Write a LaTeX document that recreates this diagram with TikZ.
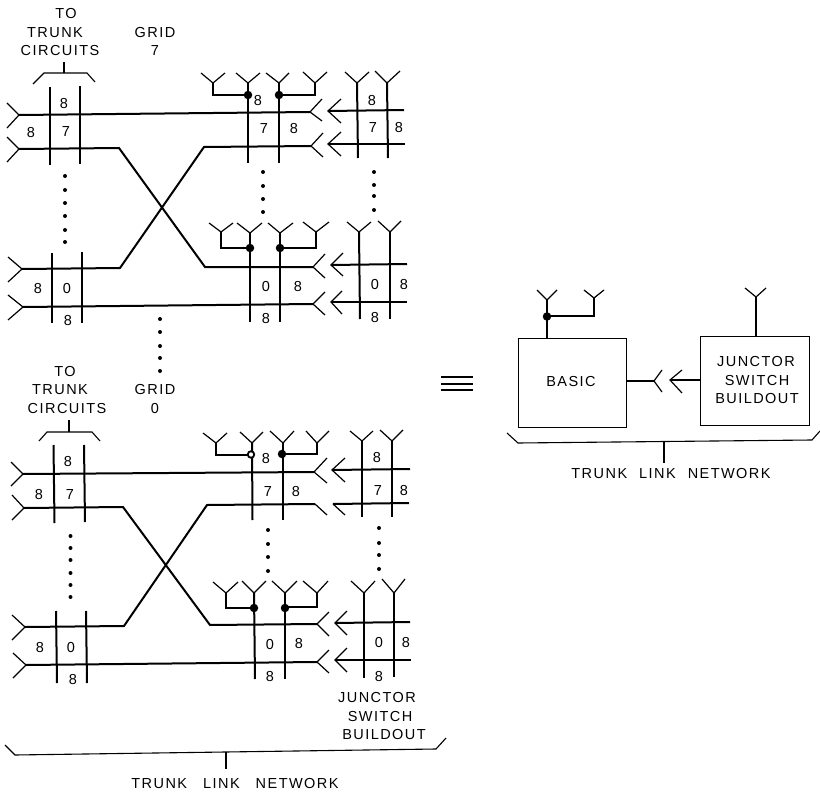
\documentclass[tikz,border=0pt]{standalone}
\usepackage{fontspec}
\setmainfont[LetterSpace=10]{Liberation Sans}
\tikzset{
  trunk/.style={line width=2pt,line join=miter},
  arm/.style={line width=1.2pt,line join=miter},
  brace/.style={line width=1.1pt,line join=miter},
  lbl/.style={inner sep=0pt,yshift=-0.8pt,font=\fontsize{14.5}{16}\selectfont,align=center},
  bigdot/.style={circle,fill=black,inner sep=0pt,minimum size=8.5pt},
  boxn/.style={draw,line width=1.2pt,inner sep=0pt,anchor=north west}
}
% left-opening fork or arrow: name, tip x, tip y, arm x, upper arm y, lower arm y
\newcommand{\forktip}[6]{\coordinate (#1) at (#2,#3);\draw[arm] (#4,#5)--(#1)--(#4,#6);}
% antenna: name, x, tip y, left x, right x, top y
\newcommand{\ant}[6]{\coordinate (#1) at (#2,#3);\draw[arm] (#4,#6)--(#1)--(#5,#6);}
\newcommand{\lab}[4]{\node[lbl] (#1) at (#2,#3) {#4};}
\newcommand{\dotcol}[2]{\foreach \yy in {#2} {\fill (#1,\yy) circle (2pt);}}
\begin{document}
\begin{tikzpicture}[x=1pt,y=-1pt]
\useasboundingbox (0,0) rectangle (820,792);
% ===== GRID 7
\lab{g7to}{66}{13}{TO}
\lab{g7tr}{55}{32}{TRUNK}
\lab{g7ci}{60}{50}{CIRCUITS}
\lab{g7gr}{155}{32}{GRID}
\lab{g7n}{155}{50}{7}
\coordinate (g7bs) at (64,62);\coordinate (g7bm) at (64,73);
\draw[brace] (33,84)--(44,73)--(87,73)--(95,82);
\draw[brace] (g7bs)--(g7bm);
% left verticals
\draw[trunk] (50,87)--(50,165);
\draw[trunk] (80,86)--(80,164);
\draw[trunk] (52,253)--(52,323);
\draw[trunk] (82,252)--(82,323);
% forks
\forktip{a1}{19}{115}{7}{103}{128}
\forktip{a2}{19}{149}{7}{137}{162}
\forktip{a3}{22}{269}{8}{257}{282}
\forktip{a4}{23}{307}{8}{295}{320}
\forktip{b1}{310}{112}{322}{99}{121}
\forktip{b2}{311}{146}{323}{133}{157}
\forktip{b3}{313}{267}{325}{254}{278}
\forktip{b4}{313}{304}{325}{292}{315}
\draw[trunk] (a1)--(b1);
\draw[trunk] (a2)--(119,148)--(205,267)--(b3);
\draw[trunk] (a3)--(120,268)--(204,147)--(b2);
\draw[trunk] (a4)--(b4);
% middle upper
\ant{c1}{213}{83}{201}{225}{73}
\ant{c2}{248}{83}{236}{260}{73}
\ant{c3}{279}{83}{266}{289}{73}
\ant{c4}{315}{83}{303}{327}{72}
\draw[trunk] (c2)--(248,163);
\draw[trunk] (c3)--(279,163);
\draw[trunk] (c1)--(213,95)--(248,95);
\draw[trunk] (c4)--(315,95)--(279,95);
\node[bigdot] (c2d) at (248,95) {};
\node[bigdot] (c3d) at (279,95) {};
% middle lower
\ant{d1}{221}{232}{209}{233}{223}
\ant{d2}{250}{233}{237}{262}{223}
\ant{d3}{280}{233}{268}{293}{223}
\ant{d4}{316}{232}{303}{329}{222}
\draw[trunk] (d2)--(250,322);
\draw[trunk] (d3)--(280,322);
\draw[trunk] (d1)--(221,248)--(250,248);
\draw[trunk] (d4)--(316,248)--(280,248);
\node[bigdot] (d2d) at (250,248) {};
\node[bigdot] (d3d) at (280,248) {};
% right buildout
\ant{e1}{357}{83}{345}{369}{72}
\ant{e2}{387}{83}{375}{400}{71}
\ant{e3}{359}{232}{347}{371}{222}
\ant{e4}{390}{232}{378}{401}{221}
\draw[trunk] (e1)--(358,158);
\draw[trunk] (e2)--(388,158);
\draw[trunk] (e3)--(360,319);
\draw[trunk] (e4)--(390,319);
\forktip{f1}{328}{111}{341}{99}{123}
\forktip{f2}{328}{144}{341}{132}{156}
\forktip{f3}{331}{265}{343}{253}{276}
\forktip{f4}{331}{302}{342}{291}{314}
\draw[trunk] (f1)--(404,110);
\draw[trunk] (f2)--(405,144);
\draw[trunk] (f3)--(407,264);
\draw[trunk] (f4)--(407,302);
% labels
\lab{l1}{64}{103}{8}\lab{l2}{31}{132}{8}\lab{l3}{66}{131}{7}
\lab{l4}{38}{288}{8}\lab{l5}{67}{288}{0}\lab{l6}{68}{320}{8}
\lab{l7}{258}{100}{8}\lab{l8}{264}{128}{7}\lab{l9}{294}{128}{8}
\lab{l10}{372}{100}{8}\lab{l11}{373}{127}{7}\lab{l12}{399}{127}{8}
\lab{l13}{266}{286}{0}\lab{l14}{298}{286}{8}\lab{l15}{266}{318}{8}
\lab{l16}{375}{284}{0}\lab{l17}{404}{284}{8}\lab{l18}{375}{317}{8}
% dots
\dotcol{65}{176,190,203,216,230,242}
\dotcol{263}{172,186,199,212}
\dotcol{374}{172,185,196,210}
\dotcol{160}{319,332,346,358,371}
% ===== GRID 0
\lab{g0gr}{155}{389}{GRID}
\lab{g0n}{155}{408}{0}
\lab{g0to}{65}{371}{TO}
\lab{g0tr}{60}{389}{TRUNK}
\lab{g0ci}{67}{408}{CIRCUITS}
\coordinate (g0bs) at (69,420);\coordinate (g0bm) at (69,432);
\draw[brace] (39,441)--(47,432)--(92,432)--(100,441);
\draw[brace] (g0bs)--(g0bm);
\draw[trunk] (53.5,445)--(54.5,523);
\draw[trunk] (84,445)--(85,522);
\draw[trunk] (56,611)--(57,683);
\draw[trunk] (86,611)--(87,683);
\forktip{h1}{23}{474}{11}{462}{486}
\forktip{h2}{24}{508}{12}{495}{520}
\forktip{h3}{25}{627}{12}{615}{640}
\forktip{h4}{26}{665}{13}{653}{678}
\forktip{i1}{314}{472}{327}{458}{483}
\coordinate (i2) at (315,504);\draw[arm] (i2)--(327,515);
\forktip{i3}{317}{624}{329}{612}{636}
\forktip{i4}{317}{662}{329}{650}{673}
\draw[trunk] (h1)--(i1);
\draw[trunk] (h2)--(123,507)--(210,625)--(i3);
\draw[trunk] (h3)--(124,626)--(207,505)--(i2);
\draw[trunk] (h4)--(i4);
% middle upper
\ant{j1}{216}{443}{203}{227}{433}
\ant{j2}{252}{443}{240}{263}{432}
\ant{j3}{283}{443}{270}{294}{431}
\ant{j4}{317}{443}{306}{329}{431}
\draw[trunk] (j2)--(252.5,520);
\draw[trunk] (j3)--(283,520);
\draw[trunk] (j1)--(216,454.5)--(252,454.5);
\draw[trunk] (j4)--(317,454)--(282,454);
\node[circle,draw,fill=white,line width=1.8pt,inner sep=0pt,minimum size=6.5pt] (j2d) at (251,454.5) {};
\node[bigdot] (j3d) at (282,454) {};
% middle lower
\ant{k1}{226}{593}{213}{238}{582}
\ant{k2}{254}{593}{242}{266}{581}
\ant{k3}{285}{593}{272}{297}{581}
\ant{k4}{317}{593}{303}{328}{581}
\draw[trunk] (k2)--(255,679);
\draw[trunk] (k3)--(285,679);
\draw[trunk] (k1)--(226,608)--(254,608);
\draw[trunk] (k4)--(317,607)--(285,607);
\node[bigdot] (k2d) at (254,608) {};
\node[bigdot] (k3d) at (285,608) {};
% right buildout
\ant{m1}{362}{441}{350}{373}{431}
\ant{m2}{392}{441}{380}{403}{430}
\ant{m3}{364}{593}{351}{375}{581}
\ant{m4}{394}{593}{382}{405}{579}
\draw[trunk] (m1)--(362,517);
\draw[trunk] (m2)--(392,517);
\draw[trunk] (m3)--(364,678);
\draw[trunk] (m4)--(394,677);
\forktip{n1}{332}{470}{345}{458}{482}
\coordinate (n2) at (333,504);\draw[arm] (n2)--(345,515);
\forktip{n3}{335}{623}{347}{611}{635}
\forktip{n4}{335}{660}{347}{648}{672}
\draw[trunk] (n1)--(410,469);
\draw[trunk] (n2)--(409,503);
\draw[trunk] (n3)--(410,622);
\draw[trunk] (n4)--(411,660);
% labels
\lab{p1}{68}{461}{8}\lab{p2}{39}{494}{8}\lab{p3}{70}{494}{7}
\lab{p4}{40}{647}{8}\lab{p5}{71}{647}{0}\lab{p6}{73}{679}{8}
\lab{p7}{266}{458}{8}\lab{p8}{268}{491}{7}\lab{p9}{296}{491}{8}
\lab{p10}{377}{457}{8}\lab{p11}{378}{490}{7}\lab{p12}{404}{490}{8}
\lab{p13}{270}{644}{0}\lab{p14}{299}{643}{8}\lab{p15}{270}{676}{8}
\lab{p16}{379}{642}{0}\lab{p17}{406}{642}{8}\lab{p18}{379}{676}{8}
\dotcol{70.5}{536,548,560,573,585,597}
\dotcol{268}{530,544,557,571}
\dotcol{379}{528,543,555,569}
% bottom
\lab{q1}{377}{697}{JUNCTOR}
\lab{q2}{380}{716}{SWITCH}
\lab{q3}{384}{734}{BUILDOUT}
\coordinate (qb) at (226,752);\coordinate (qs) at (226,769);
\draw[brace] (5,745)--(15,755)--(436,749)--(446,738);
\draw[brace] (qb)--(qs);
\node[lbl] (q4) at (235,783) {TRUNK\hspace{16pt}LINK\hspace{16pt}NETWORK};
% equals
\draw[arm] (441,377)--(473,377);
\draw[arm] (441,384)--(473,384);
\draw[arm] (441,390)--(473,390);
% ===== right diagram
\node[boxn,minimum width=108pt,minimum height=89pt] (basic) at (518,338) {};
\node[boxn,minimum width=109pt,minimum height=89pt] (jsb) at (700,336) {};
\lab{r1}{571}{381}{BASIC}
\lab{r2}{756}{361}{JUNCTOR}
\lab{r3}{757}{380}{SWITCH}
\lab{r4}{757}{398}{BUILDOUT}
\ant{s1}{547}{300}{537}{557}{290}
\ant{s2}{594}{298}{584}{604}{290}
\ant{s3}{756}{297}{745}{766}{288}
\draw[trunk] (s1)--(s1|-basic.north);
\draw[trunk] (s3)--(s3|-jsb.north);
\draw[trunk] (547,316)--(594,316)--(s2);
\node[bigdot] (sd) at (547,316.5) {};
\coordinate (t1) at (654,381);\draw[arm] (662,370)--(t1)--(662,392);
\coordinate (t2) at (670,380);\draw[arm] (682,370)--(t2)--(682,393);
\draw[line width=2.4pt] (basic.east|-t1)--(t1);
\draw[line width=2.4pt] (jsb.west|-t2)--(t2);
\coordinate (tb) at (664,442);\coordinate (ts) at (664,463);
\draw[brace] (507,433)--(518,443)--(812,440)--(820,431);
\draw[brace] (tb)--(ts);
\node[lbl] (t3) at (671,473) {TRUNK\hspace{12pt}LINK\hspace{12pt}NETWORK};
\end{tikzpicture}
\end{document}
